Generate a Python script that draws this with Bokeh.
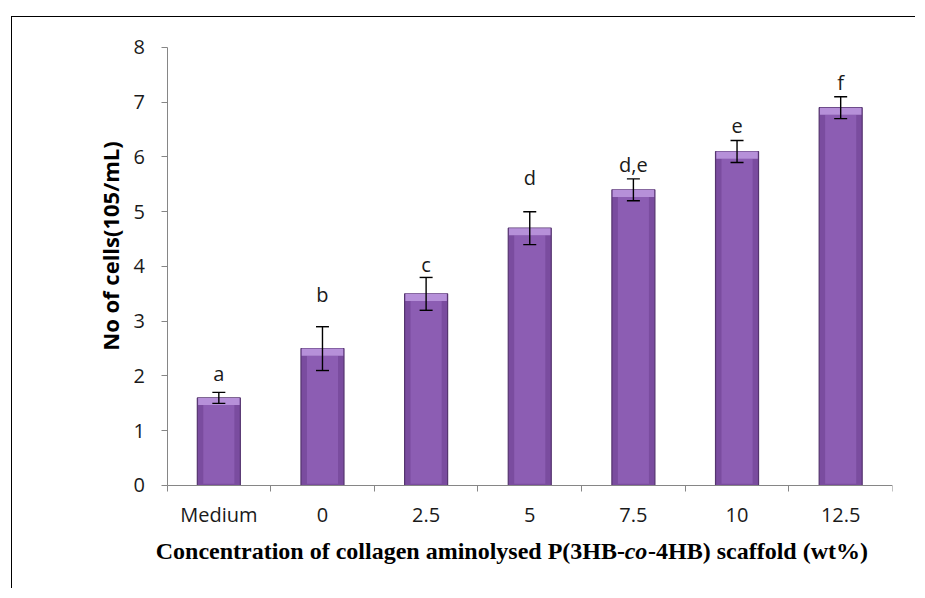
import numpy as np
from bokeh.plotting import figure
from bokeh.models import ColumnDataSource, Whisker, TeeHead, FixedTicker, Label, Range1d
from bokeh.core.properties import value
from bokeh.embed import file_html
from bokeh.resources import INLINE

categories = ["Medium", "0", "2.5", "5", "7.5", "10", "12.5"]
cell_counts = [1.6, 2.5, 3.5, 4.7, 5.4, 6.1, 6.9]
errors = [0.1, 0.4, 0.3, 0.3, 0.2, 0.2, 0.2]
letters = ["a", "b", "c", "d", "d,e", "e", "f"]
letter_heights = [1.94, 3.38, 3.92, 5.52, 5.76, 6.46, 7.26]
y_ticks = [0, 1, 2, 3, 4, 5, 6, 7, 8]

n = len(categories)
xs = np.arange(n) + 0.5
vals = np.array(cell_counts)
errs = np.array(errors)

src = ColumnDataSource(dict(
    x=xs, top=vals, upper=vals + errs, lower=vals - errs,
    lab=letters, laby=letter_heights,
    bevel=vals - 0.13, inner_top=vals - 0.13,
))

# layout: frame extends past the axes so that the titles can sit inside it
W, H = 904, 572
BL, BR, BT, BB = 83, 24, 14, 15
p = figure(width=W, height=H, output_backend="svg", toolbar_location=None,
           x_range=Range1d(-0.69, n), y_range=Range1d(-1.6256, 8.2922),
           min_border_left=BL, min_border_right=BR, min_border_top=BT, min_border_bottom=BB)
p.margin = (16, 0, 0, 11)
p.styles = {"border-left": "1.5px solid #000000", "border-top": "1.5px solid #000000"}
p.outline_line_color = None
p.grid.visible = False
p.background_fill_color = "white"
p.border_fill_color = "white"

# bars
p.vbar(x="x", top="top", bottom=0, width=0.415, source=src,
       fill_color="#7a4c9f", line_color="#55346f", line_width=1.2)
p.vbar(x="x", top="inner_top", bottom=0.03, width=0.30, source=src,
       fill_color="#8c5db3", line_color=None)
p.vbar(x="x", top="top", bottom="bevel", width=0.40, source=src,
       fill_color="#b690d9", line_color=None)

# error bars
w = Whisker(source=src, base="x", upper="upper", lower="lower",
            line_color="black", line_width=1.4, level="overlay",
            upper_head=TeeHead(size=13, line_color="black", line_width=1.4),
            lower_head=TeeHead(size=13, line_color="black", line_width=1.4))
p.add_layout(w)

# significance letters
p.text(x="x", y="laby", text="lab", source=src, text_align="center",
       text_baseline="alphabetic", text_font=value("Open Sans"),
       text_font_size="20px", text_color="#1a1a1a", y_offset=-6)

# x axis (drawn at y = 0)
xa = p.xaxis[0]
xa.fixed_location = 0
xa.bounds = (0, n)
xa.ticker = FixedTicker(ticks=list(xs), minor_ticks=list(range(n + 1)))
xa.major_label_overrides = {float(x): c for x, c in zip(xs, categories)}
xa.major_tick_line_color = None
xa.major_tick_out = 6
xa.minor_tick_out = 6
xa.minor_tick_in = 0
xa.minor_tick_line_color = "#868686"
xa.axis_line_color = "#868686"
xa.major_label_text_font = "Open Sans"
xa.major_label_text_font_size = "20px"
xa.major_label_text_color = "#1a1a1a"
xa.major_label_standoff = 10

# y axis (drawn at x = 0)
ya = p.yaxis[0]
ya.fixed_location = 0
ya.bounds = (0, 8)
ya.ticker = FixedTicker(ticks=y_ticks, minor_ticks=[])
ya.major_tick_out = 6
ya.major_tick_in = 0
ya.major_tick_line_color = "#868686"
ya.axis_line_color = "#868686"
ya.major_label_text_font = "Open Sans"
ya.major_label_text_font_size = "20px"
ya.major_label_text_color = "#1a1a1a"
ya.major_label_standoff = 16

# y axis title (screen units relative to the frame, origin bottom-left)
p.add_layout(Label(x=14.5, y=328.5, x_units="screen", y_units="screen",
                   text="No of cells(105/mL)", angle=np.pi / 2,
                   text_align="center", text_baseline="middle",
                   text_font="Open Sans", text_font_style="bold",
                   text_font_size="22px", text_color="#000000"))

# x axis title (mixed styles)
base_y = 23.5
fs = "24px"
p.add_layout(Label(x=529.5, y=base_y, x_units="screen", y_units="screen",
                   text="Concentration of collagen aminolysed P(3HB-",
                   text_align="right", text_baseline="alphabetic",
                   text_font="Liberation Serif", text_font_style="bold",
                   text_font_size=fs, text_color="#000000"))
p.add_layout(Label(x=540.5, y=base_y, x_units="screen", y_units="screen",
                   text="co", text_align="center", text_baseline="alphabetic",
                   text_font="Liberation Serif", text_font_style="bold italic",
                   text_font_size=fs, text_color="#000000"))
p.add_layout(Label(x=552.5, y=base_y, x_units="screen", y_units="screen",
                   text="-4HB) scaffold (wt%)",
                   text_align="left", text_baseline="alphabetic",
                   text_font="Liberation Serif", text_font_style="bold",
                   text_font_size=fs, text_color="#000000"))

open("out.html", "w").write(file_html(p, INLINE))
